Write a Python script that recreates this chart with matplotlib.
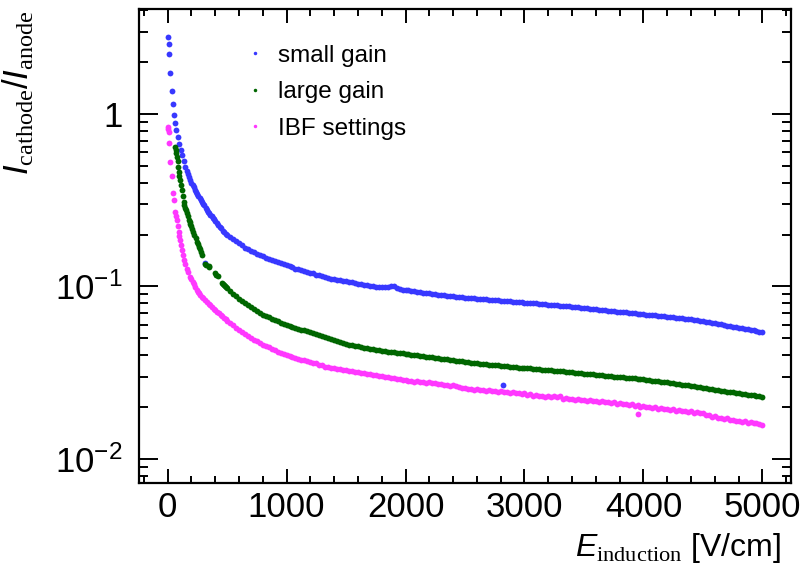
import matplotlib
matplotlib.use("Agg")
import math
import matplotlib.pyplot as plt
from matplotlib.ticker import LogLocator, MultipleLocator, FuncFormatter, NullFormatter

plt.rcParams['font.family'] = ['Liberation Sans', 'DejaVu Sans']
plt.rcParams['mathtext.fontset'] = 'custom'
plt.rcParams['mathtext.rm'] = 'Liberation Serif'
plt.rcParams['mathtext.it'] = 'Liberation Sans:italic'
plt.rcParams['mathtext.sf'] = 'Liberation Sans'
plt.rcParams['mathtext.bf'] = 'Liberation Sans:bold'

# ---------------- data ----------------
labels = ["small gain", "large gain", "IBF settings"]
colors = ["#3838ff", "#006600", "#ff38ff"]

# common scan grid of the bulk of the measurement [V/cm]
E_grid = [500, 525, 550, 575, 600, 625, 650, 675, 700, 725, 750, 775, 800, 825, 850, 875, 900, 925, 950, 975,
          1000, 1025, 1050, 1075, 1100, 1125, 1150, 1175, 1200, 1225, 1250, 1275, 1300, 1325, 1350, 1375, 1400,
          1425, 1450, 1475, 1500, 1525, 1550, 1575, 1600, 1625, 1650, 1675, 1700, 1725, 1750, 1775, 1800, 1825,
          1850, 1875, 1900, 1925, 1950, 1975, 2000, 2025, 2050, 2075, 2100, 2125, 2150, 2175, 2200, 2225, 2250,
          2275, 2300, 2325, 2350, 2375, 2400, 2425, 2450, 2475, 2500, 2525, 2550, 2575, 2600, 2625, 2650, 2675,
          2700, 2725, 2750, 2775, 2800, 2825, 2850, 2875, 2900, 2925, 2950, 2975, 3000, 3025, 3050, 3075, 3100,
          3125, 3150, 3175, 3200, 3225, 3250, 3275, 3300, 3325, 3350, 3375, 3400, 3425, 3450, 3475, 3500, 3525,
          3550, 3575, 3600, 3625, 3650, 3675, 3700, 3725, 3750, 3775, 3800, 3825, 3850, 3875, 3900, 3925, 3950,
          3975, 4000, 4025, 4050, 4075, 4100, 4125, 4150, 4175, 4200, 4225, 4250, 4275, 4300, 4325, 4350, 4375,
          4400, 4425, 4450, 4475, 4500, 4525, 4550, 4575, 4600, 4625, 4650, 4675, 4700, 4725, 4750, 4775, 4800,
          4825, 4850, 4875, 4900, 4925, 4950, 4975, 5000]

# small gain
small_E_early = [5, 10, 15, 23, 34, 45, 54, 65, 73, 84, 98, 110, 121, 135, 149, 160, 170, 180, 191, 200, 210,
                 220, 230, 240, 250, 260, 270, 280, 290, 300, 310, 318, 320, 331, 340, 350, 360, 370, 380, 390,
                 400, 415, 425, 440, 450, 465, 475, 490, 2820]
small_R_early = [2.81, 2.56, 2.24, 1.72, 1.35, 1.15, 0.983, 0.883, 0.808, 0.733, 0.670, 0.618, 0.578, 0.535,
                 0.495, 0.468, 0.448, 0.430, 0.414, 0.400, 0.387, 0.375, 0.363, 0.353, 0.344, 0.335, 0.326,
                 0.318, 0.310, 0.302, 0.295, 0.136, 0.286, 0.278, 0.272, 0.266, 0.260, 0.255, 0.250, 0.245,
                 0.240, 0.2325, 0.228, 0.221, 0.217, 0.211, 0.207, 0.202, 0.0269]
small_R = [0.199, 0.194, 0.189, 0.184, 0.179, 0.174, 0.168, 0.164, 0.161, 0.158, 0.155, 0.152, 0.150, 0.147,
           0.145, 0.143, 0.141, 0.139, 0.137, 0.135, 0.133, 0.131, 0.129, 0.127, 0.126, 0.1245, 0.123, 0.1215,
           0.120, 0.119, 0.117, 0.116, 0.115, 0.1138, 0.1125, 0.111, 0.110, 0.109, 0.1085, 0.1078, 0.107,
           0.1065, 0.1058, 0.1048, 0.104, 0.1033, 0.1025, 0.102, 0.1012, 0.1005, 0.0998, 0.0995, 0.0993,
           0.0994, 0.0996, 0.1008, 0.1004, 0.0978, 0.0965, 0.096, 0.0955, 0.095, 0.0943, 0.0938, 0.0932,
           0.0927, 0.0922, 0.0917, 0.0912, 0.0907, 0.0902, 0.0898, 0.0893, 0.0889, 0.0885, 0.0881, 0.0877,
           0.0873, 0.0869, 0.0865, 0.0861, 0.0858, 0.0855, 0.0852, 0.0849, 0.0846, 0.0843, 0.0841, 0.0838,
           0.0836, 0.0833, 0.0831, 0.0828, 0.0825, 0.0822, 0.0820, 0.0817, 0.0814, 0.0812, 0.0810, 0.0807,
           0.0805, 0.0802, 0.0799, 0.0797, 0.0794, 0.0790, 0.0787, 0.0784, 0.0781, 0.0779, 0.0776, 0.0774,
           0.0772, 0.0769, 0.0767, 0.0765, 0.0761, 0.0758, 0.0755, 0.0751, 0.0748, 0.0744, 0.0741, 0.0737,
           0.0734, 0.0731, 0.0727, 0.0724, 0.0721, 0.0719, 0.0716, 0.0713, 0.0710, 0.0707, 0.0704, 0.0701,
           0.0698, 0.0696, 0.0693, 0.0690, 0.0687, 0.0685, 0.0682, 0.0679, 0.0676, 0.0674, 0.0671, 0.0668,
           0.0665, 0.0662, 0.0659, 0.0656, 0.0653, 0.0651, 0.0648, 0.0645, 0.0641, 0.0638, 0.0634, 0.0630,
           0.0625, 0.0621, 0.0616, 0.0612, 0.0607, 0.0603, 0.0598, 0.0594, 0.0590, 0.0585, 0.0581, 0.0577,
           0.0573, 0.0569, 0.0564, 0.0560, 0.0556, 0.0552, 0.0548, 0.0545]

# large gain
large_E_early = [66, 70, 75, 80, 85, 90, 95, 100, 107, 114, 121, 128, 135, 142, 150, 157, 163, 170, 177, 185,
                 192, 200, 207, 213, 225, 235, 247, 255, 262, 270, 280, 289, 317, 325, 345, 352, 401, 410, 420,
                 457, 465, 475, 485, 495]
large_R_early = [0.641, 0.620, 0.598, 0.565, 0.535, 0.490, 0.458, 0.435, 0.414, 0.388, 0.3625, 0.336, 0.310,
                 0.297, 0.285, 0.276, 0.268, 0.255, 0.243, 0.236, 0.230, 0.224, 0.215, 0.208, 0.198, 0.191,
                 0.182, 0.176, 0.170, 0.164, 0.158, 0.152, 0.135, 0.133, 0.131, 0.129, 0.119, 0.117, 0.115,
                 0.105, 0.1035, 0.102, 0.1005, 0.0995]
large_R = [0.0985, 0.0945, 0.0905, 0.0877, 0.0850, 0.0825, 0.0800, 0.0778, 0.0757, 0.0738, 0.0720, 0.0704,
           0.0688, 0.0675, 0.0662, 0.0650, 0.0638, 0.0627, 0.0616, 0.0608, 0.0600, 0.0592, 0.0585, 0.0577,
           0.0570, 0.0563, 0.0556, 0.0549, 0.0542, 0.0535, 0.0528, 0.0521, 0.0515, 0.0507, 0.0500, 0.0493,
           0.0487, 0.0481, 0.0476, 0.0471, 0.0466, 0.0461, 0.0457, 0.0453, 0.0449, 0.0445, 0.0442, 0.0438,
           0.0435, 0.0432, 0.0429, 0.0427, 0.0424, 0.0421, 0.0419, 0.0417, 0.0415, 0.0413, 0.0411, 0.0409,
           0.0407, 0.0405, 0.0403, 0.0401, 0.0399, 0.0397, 0.0395, 0.0392, 0.0390, 0.0388, 0.0386, 0.0384,
           0.0382, 0.0380, 0.0378, 0.0375, 0.0373, 0.0371, 0.0369, 0.0368, 0.0366, 0.0364, 0.0362, 0.0361,
           0.0359, 0.0357, 0.0356, 0.0354, 0.0353, 0.0352, 0.0350, 0.0349, 0.0348, 0.0346, 0.0345, 0.0343,
           0.0342, 0.0341, 0.0339, 0.0338, 0.0337, 0.0336, 0.0335, 0.0334, 0.0333, 0.0331, 0.0330, 0.0329,
           0.0328, 0.0327, 0.0325, 0.0324, 0.0323, 0.0322, 0.0320, 0.0319, 0.0318, 0.0317, 0.0315, 0.0314,
           0.0313, 0.0312, 0.0310, 0.0309, 0.0308, 0.0307, 0.0305, 0.0304, 0.0303, 0.0302, 0.0300, 0.0299,
           0.0298, 0.0297, 0.0296, 0.0295, 0.0294, 0.0293, 0.0291, 0.0290, 0.0289, 0.0287, 0.0286, 0.0284,
           0.0283, 0.0282, 0.0280, 0.0279, 0.0278, 0.0276, 0.0275, 0.0273, 0.0272, 0.0270, 0.0269, 0.0267,
           0.0266, 0.0264, 0.0262, 0.0261, 0.0259, 0.0257, 0.0255, 0.0254, 0.0252, 0.0250, 0.0249, 0.0247,
           0.0246, 0.0244, 0.0243, 0.0241, 0.0240, 0.0239, 0.0237, 0.0236, 0.0235, 0.0234, 0.0232, 0.0231,
           0.0230]

# IBF settings
ibf_E_early = [3, 6, 10, 15, 23, 37, 45, 54, 65, 72, 79, 86, 93, 100, 107, 114, 121, 130, 140, 150, 163, 175,
               191, 200, 210, 219, 233, 245, 255, 265, 275, 290, 300, 315, 331, 345, 360, 375, 390, 400, 415,
               430, 445, 460, 475, 490, 3955]
ibf_R_early = [0.840, 0.815, 0.790, 0.676, 0.529, 0.437, 0.350, 0.317, 0.2715, 0.256, 0.243, 0.225, 0.208,
               0.197, 0.186, 0.174, 0.163, 0.152, 0.1425, 0.135, 0.127, 0.121, 0.114, 0.110, 0.106, 0.103,
               0.099, 0.0960, 0.0935, 0.0912, 0.0893, 0.0870, 0.0855, 0.0835, 0.0812, 0.0795, 0.0776, 0.0760,
               0.0744, 0.0733, 0.0716, 0.0700, 0.0685, 0.0670, 0.0656, 0.0644, 0.0182]
ibf_R = [0.0633, 0.0615, 0.0597, 0.0576, 0.0562, 0.0545, 0.0531, 0.0518, 0.0506, 0.0490, 0.0481, 0.0469,
         0.0461, 0.0450, 0.0444, 0.0432, 0.0428, 0.0418, 0.0414, 0.0405, 0.0402, 0.0394, 0.0391, 0.0384,
         0.0382, 0.0376, 0.0374, 0.0368, 0.0366, 0.0359, 0.0358, 0.0351, 0.0350, 0.0343, 0.0342, 0.0337,
         0.0337, 0.0332, 0.0333, 0.0328, 0.0329, 0.0324, 0.0325, 0.0320, 0.0321, 0.0316, 0.0317, 0.0312,
         0.0312, 0.0307, 0.0307, 0.0302, 0.0302, 0.0298, 0.0298, 0.0294, 0.0294, 0.0290, 0.0291, 0.0287,
         0.0288, 0.0284, 0.0285, 0.0281, 0.0282, 0.0279, 0.0280, 0.0276, 0.0278, 0.0274, 0.0275, 0.0271,
         0.0273, 0.0269, 0.0270, 0.0266, 0.0268, 0.0264, 0.0263, 0.0259, 0.0259, 0.0255, 0.0256, 0.0252,
         0.0254, 0.0250, 0.0252, 0.0249, 0.0251, 0.0248, 0.0249, 0.0246, 0.0248, 0.0244, 0.0245, 0.0241,
         0.0243, 0.0240, 0.0241, 0.0238, 0.0240, 0.0236, 0.0237, 0.0233, 0.0234, 0.0231, 0.0233, 0.0230,
         0.0232, 0.0229, 0.0232, 0.0229, 0.0231, 0.0224, 0.0225, 0.0222, 0.0224, 0.0221, 0.0222, 0.0219,
         0.0221, 0.0218, 0.0219, 0.0216, 0.0218, 0.0214, 0.0216, 0.0213, 0.0215, 0.0211, 0.0213, 0.0209,
         0.0211, 0.0207, 0.0209, 0.0205, 0.0207, 0.0203, 0.0205, 0.0201, 0.0203, 0.0199, 0.0201, 0.0198,
         0.0199, 0.0196, 0.0197, 0.0194, 0.0196, 0.0193, 0.0194, 0.0191, 0.0193, 0.0189, 0.0191, 0.0188,
         0.0189, 0.0186, 0.0187, 0.0184, 0.0184, 0.0180, 0.0180, 0.0176, 0.0177, 0.0173, 0.0174, 0.0171,
         0.0172, 0.0168, 0.0169, 0.0166, 0.0167, 0.0164, 0.0165, 0.0162, 0.0163, 0.0161, 0.0161, 0.0159,
         0.0158]

x_ticks = [0, 1000, 2000, 3000, 4000, 5000]
x_label = r"$E_{\mathrm{induction}}$ [V/cm]"
y_label = r"$I_{\mathrm{cathode}}$/$I_{\mathrm{anode}}$"

# ---------------- figure ----------------
fig = plt.figure(figsize=(8.05, 5.66), dpi=100)
ax = fig.add_axes([139 / 805, 1 - 483 / 566, (791 - 139) / 805, (483 - 9) / 566])

series = [
    (small_E_early + E_grid, small_R_early + small_R),
    (large_E_early + E_grid, large_R_early + large_R),
    (ibf_E_early + E_grid, ibf_R_early + ibf_R),
]
for (xs, ys), lab, col in zip(series, labels, colors):
    ax.plot(xs, ys, linestyle='none', marker='o', markersize=4.2, markeredgewidth=0,
            color=col, label=lab)

ax.set_yscale('log')
ax.set_xlim(-240, 5240)
ax.set_ylim(0.00726, 4.06)

ax.xaxis.set_major_locator(plt.FixedLocator(x_ticks))
ax.xaxis.set_minor_locator(MultipleLocator(200))
ax.yaxis.set_major_locator(LogLocator(base=10, numticks=10))
ax.yaxis.set_minor_locator(LogLocator(base=10, subs=[2, 3, 4, 5, 6, 7, 8, 9], numticks=30))
ax.yaxis.set_minor_formatter(NullFormatter())


def yfmt(v, pos):
    e = int(round(math.log10(v)))
    if e == 0:
        return "1"
    return r"$\mathsf{10^{%d}}$" % e


ax.yaxis.set_major_formatter(FuncFormatter(yfmt))

ax.tick_params(which='both', direction='in', top=True, right=True, width=1.4)
ax.tick_params(axis='y', which='major', length=13.7, labelsize=25, pad=12)
ax.tick_params(axis='y', which='minor', length=6.8)
ax.tick_params(axis='x', which='major', length=10, labelsize=25, pad=6)
ax.tick_params(axis='x', which='minor', length=5)
for sp in ax.spines.values():
    sp.set_linewidth(1.6)

ax.set_xlabel(x_label, fontsize=23, ha='right', va='center')
ax.xaxis.set_label_coords(0.985, -0.137)
ax.set_ylabel(y_label, fontsize=25, loc='top')
ax.yaxis.label.set_va('center')
ax.yaxis.set_label_coords(-0.185, 0.997)

ax.legend(loc='upper left', bbox_to_anchor=(0.166, 0.925), frameon=False, fontsize=17.5,
          handlelength=0.6, handletextpad=0.65, labelspacing=0.6, borderpad=0,
          borderaxespad=0, markerscale=0.6)

fig.savefig("out.png", dpi=100)
